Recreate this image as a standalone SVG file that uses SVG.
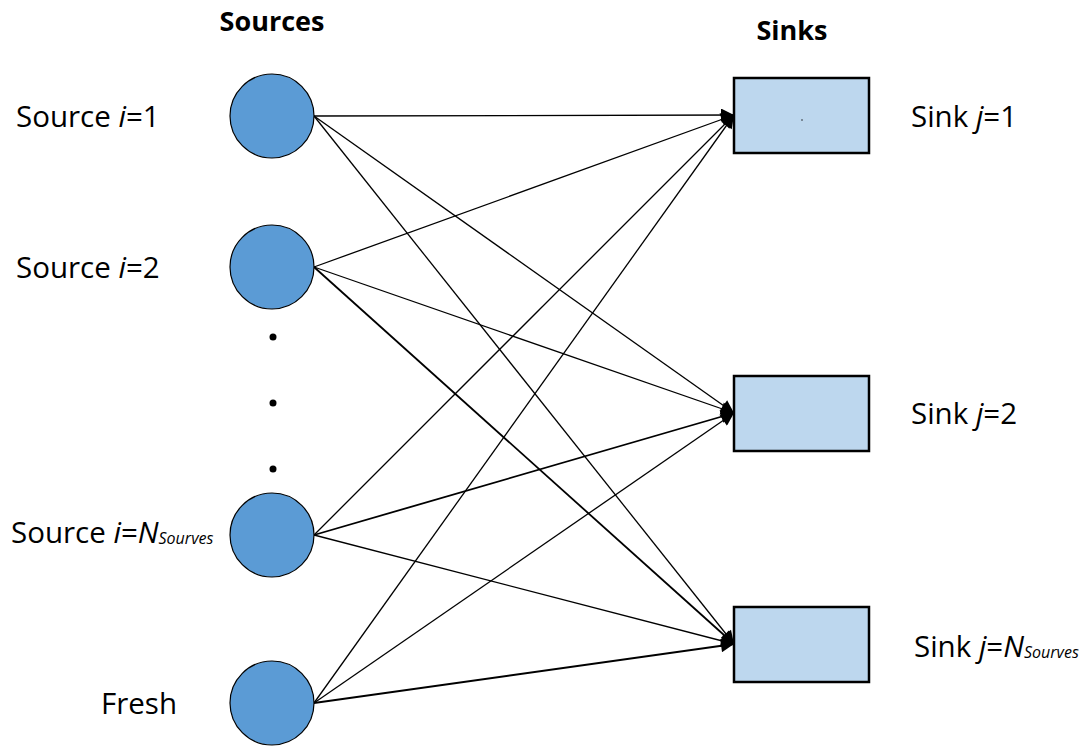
<svg xmlns="http://www.w3.org/2000/svg" width="1086" height="746" viewBox="0 0 1086 746">
<style>
.src{fill:#5b9bd5;stroke:#000;stroke-width:1.2}
.snk{fill:#bdd7ee;stroke:#000;stroke-width:2.5}
.lbl{font-family:"Open Sans","Liberation Sans",sans-serif;font-size:29.5px;fill:#000}
.hd{font-family:"Open Sans","Liberation Sans",sans-serif;font-size:27px;font-weight:bold;fill:#000}
.sub{font-size:16px;font-style:italic}
.e{stroke:#000;stroke-width:1.3;fill:none;marker-end:url(#ah)}
</style>
<defs>
<marker id="ah" viewBox="0 0 10 10" refX="10" refY="5" markerWidth="18" markerHeight="13" markerUnits="userSpaceOnUse" orient="auto"><path d="M0,0 L10,5 L0,10 z" fill="#000"/></marker>
</defs>
<rect width="1086" height="746" fill="#fff"/>
<text class="hd" x="272" y="31" text-anchor="middle">Sources</text>
<text class="hd" x="792" y="40" text-anchor="middle">Sinks</text>
<g id="connectors">
<line class="e" x1="314" y1="116" x2="734" y2="115"/>
<line class="e" x1="314" y1="116" x2="734" y2="413"/>
<line class="e" x1="314" y1="116" x2="734" y2="644"/>
<line class="e" x1="314" y1="267" x2="734" y2="115"/>
<line class="e" x1="314" y1="267" x2="734" y2="413"/>
<line class="e" x1="314" y1="267" x2="734" y2="644" style="stroke-width:1.8"/>
<line class="e" x1="314" y1="535" x2="734" y2="115"/>
<line class="e" x1="314" y1="535" x2="734" y2="413" style="stroke-width:1.8"/>
<line class="e" x1="314" y1="535" x2="734" y2="644"/>
<line class="e" x1="314" y1="703" x2="734" y2="115"/>
<line class="e" x1="314" y1="703" x2="734" y2="413"/>
<line class="e" x1="314" y1="703" x2="734" y2="644" style="stroke-width:1.8"/>
</g>
<g id="source1"><circle class="src" cx="272" cy="116" r="42"/><text class="lbl" x="16" y="127">Source <tspan font-style="italic">i</tspan>=1</text></g>
<g id="source2"><circle class="src" cx="272" cy="267" r="42"/><text class="lbl" x="16" y="278">Source <tspan font-style="italic">i</tspan>=2</text></g>
<g id="dots"><circle cx="273" cy="337" r="3.5" fill="#000"/><circle cx="273" cy="403" r="3.5" fill="#000"/><circle cx="273" cy="469" r="3.5" fill="#000"/></g>
<g id="sourceN"><circle class="src" cx="272" cy="535" r="42"/><text class="lbl" x="11" y="543">Source <tspan font-style="italic">i</tspan>=<tspan font-style="italic">N</tspan><tspan class="sub" dy="1">Sourves</tspan></text></g>
<g id="fresh"><circle class="src" cx="272" cy="703" r="42"/><text class="lbl" x="101" y="714">Fresh</text></g>
<g id="sink1"><rect class="snk" x="734" y="78" width="135" height="75"/><circle cx="802" cy="120" r="0.7" fill="#000"/><text class="lbl" x="911" y="127">Sink <tspan font-style="italic">j</tspan>=1</text></g>
<g id="sink2"><rect class="snk" x="734" y="376" width="135" height="75"/><text class="lbl" x="911" y="424">Sink <tspan font-style="italic">j</tspan>=2</text></g>
<g id="sink3"><rect class="snk" x="734" y="607" width="135" height="75"/><text class="lbl" x="914" y="657">Sink <tspan font-style="italic">j</tspan>=<tspan font-style="italic">N</tspan><tspan class="sub" dy="1">Sourves</tspan></text></g>
</svg>
